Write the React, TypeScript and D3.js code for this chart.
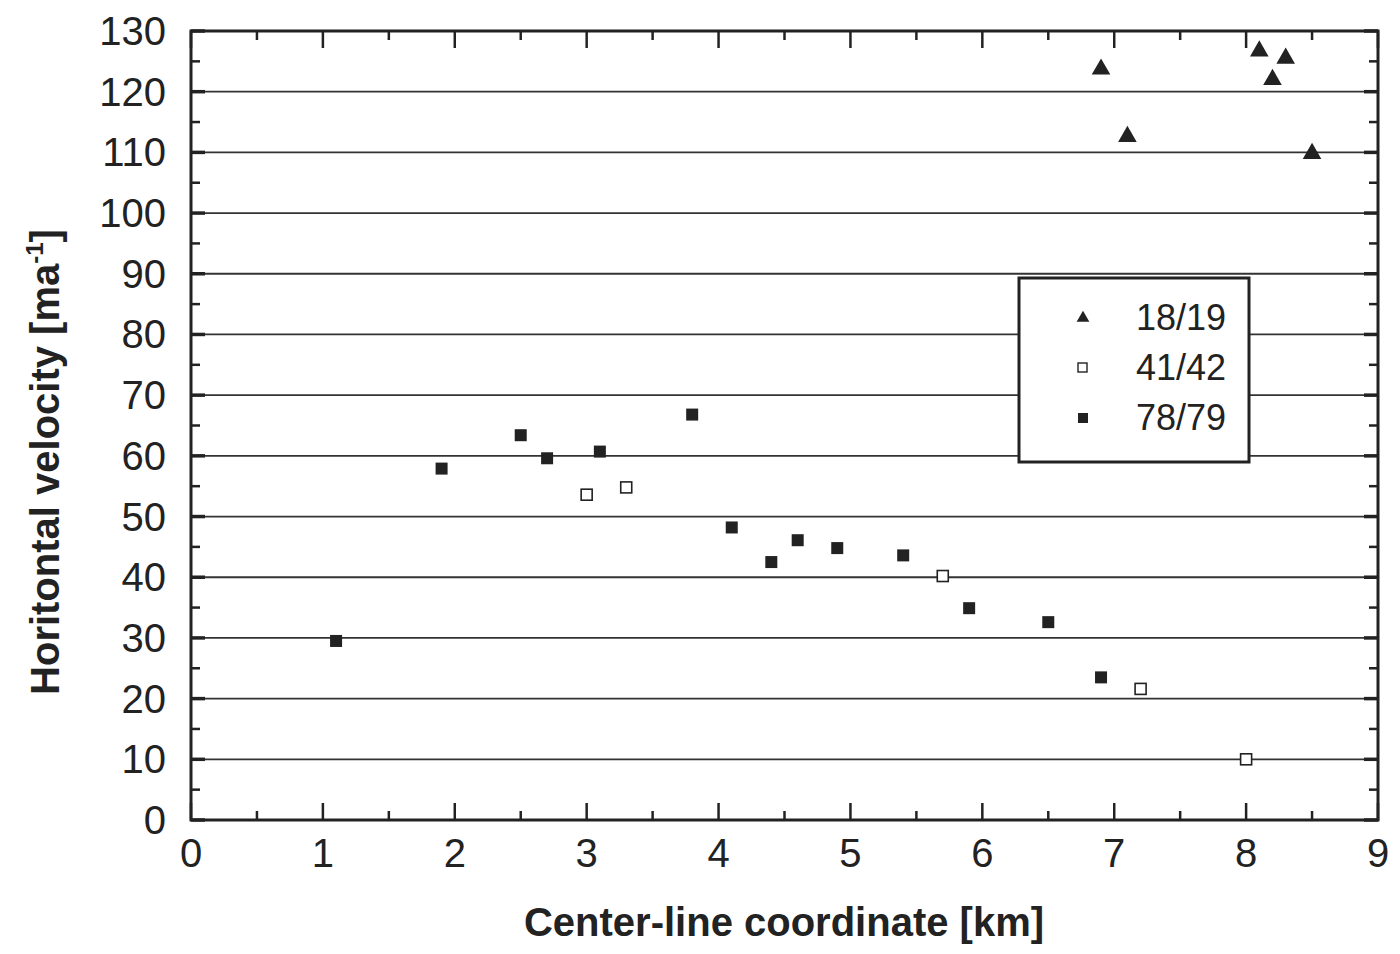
import React, { useEffect, useRef } from 'react';
import * as d3 from 'd3';

// series: [x km, velocity m/a]
const s1819 = [
  [6.9, 123.7], [7.1, 112.6], [8.1, 126.7], [8.2, 122.0], [8.3, 125.5], [8.5, 109.8],
];
const s4142 = [
  [3.0, 53.6], [3.3, 54.8], [5.7, 40.2], [7.2, 21.6], [8.0, 10.0],
];
const s7879 = [
  [1.1, 29.5], [1.9, 57.9], [2.5, 63.4], [2.7, 59.6], [3.1, 60.7], [3.8, 66.8],
  [4.1, 48.2], [4.4, 42.5], [4.6, 46.1], [4.9, 44.8], [5.4, 43.6], [5.9, 34.9],
  [6.5, 32.6], [6.9, 23.5],
];
const seriesNames = ['18/19', '41/42', '78/79'];
const xTicks = [0, 1, 2, 3, 4, 5, 6, 7, 8, 9];
const yTicks = [0, 10, 20, 30, 40, 50, 60, 70, 80, 90, 100, 110, 120, 130];

export default function App() {
  const svgRef = useRef<SVGSVGElement>(null);

  useEffect(() => {
    const svg = d3.select(svgRef.current);
    svg.selectAll('*').remove();
    const margin = { top: 31, right: 22, bottom: 134, left: 191 };
    const width = 1400;
    const height = 954;
    const w = width - margin.left - margin.right;
    const h = height - margin.top - margin.bottom;
    const font = 'Liberation Sans, Arial, sans-serif';
    const ink = '#222';

    const x = d3.scaleLinear().domain([0, 9]).range([0, w]);
    const y = d3.scaleLinear().domain([0, 130]).range([h, 0]);

    const g = svg.append('g').attr('transform', `translate(${margin.left},${margin.top})`);

    // grid lines
    g.selectAll('.grid')
      .data(yTicks.filter((d) => d > 0 && d < 130))
      .enter()
      .append('line')
      .attr('x1', 0)
      .attr('x2', w)
      .attr('y1', (d) => y(d))
      .attr('y2', (d) => y(d))
      .attr('stroke', '#333')
      .attr('stroke-width', 1.8);

    // ticks, inward
    const yMinor = d3.range(5, 130, 10);
    const xMinor = d3.range(0.5, 9, 1);
    const tick = (x1: number, y1: number, x2: number, y2: number, sw = 2.5) =>
      g.append('line').attr('x1', x1).attr('y1', y1).attr('x2', x2).attr('y2', y2)
        .attr('stroke', ink).attr('stroke-width', sw);
    yMinor.forEach((v) => { tick(0, y(v), 9, y(v)); tick(w, y(v), w - 9, y(v)); });
    yTicks.forEach((v) => { tick(0, y(v), 14, y(v), 3.5); tick(w, y(v), w - 14, y(v), 3.5); });
    xMinor.forEach((v) => { tick(x(v), h, x(v), h - 9); tick(x(v), 0, x(v), 9); });
    xTicks.forEach((v) => { tick(x(v), h, x(v), h - 17); tick(x(v), 0, x(v), 17); });

    // frame
    g.append('rect').attr('x', 0).attr('y', 0).attr('width', w).attr('height', h)
      .attr('fill', 'none').attr('stroke', ink).attr('stroke-width', 3);

    // tick labels
    g.selectAll('.xl').data(xTicks).enter().append('text')
      .attr('x', (d) => x(d)).attr('y', h + 47)
      .attr('text-anchor', 'middle').attr('font-family', font).attr('font-size', 40)
      .attr('fill', ink).text((d) => d);
    g.selectAll('.yl').data(yTicks).enter().append('text')
      .attr('x', -25).attr('y', (d) => y(d) + 14)
      .attr('text-anchor', 'end').attr('font-family', font).attr('font-size', 40)
      .attr('fill', ink).text((d) => d);

    // axis titles
    svg.append('text').attr('x', 784).attr('y', 936)
      .attr('text-anchor', 'middle').attr('font-family', font).attr('font-size', 40)
      .attr('font-weight', 'bold').attr('fill', ink).text('Center-line coordinate [km]');
    const yt = svg.append('text')
      .attr('transform', `translate(59,462) rotate(-90)`)
      .attr('text-anchor', 'middle').attr('font-family', font).attr('font-size', 40)
      .attr('font-weight', 'bold').attr('fill', ink);
    yt.append('tspan').text('Horitontal velocity [ma');
    yt.append('tspan').attr('font-size', 24).attr('dy', -16).text('-1');
    yt.append('tspan').attr('dy', 16).text(']');

    const tri = d3.symbol().type(d3.symbolTriangle);

    // markers
    g.selectAll('.tri').data(s1819).enter().append('path')
      .attr('d', tri.size(150)())
      .attr('transform', (d) => `translate(${x(d[0])},${y(d[1])})`)
      .attr('fill', ink);
    g.selectAll('.open').data(s4142).enter().append('rect')
      .attr('x', (d) => x(d[0]) - 5.5).attr('y', (d) => y(d[1]) - 5.5)
      .attr('width', 11).attr('height', 11)
      .attr('fill', 'white').attr('stroke', ink).attr('stroke-width', 1.6);
    g.selectAll('.fill').data(s7879).enter().append('rect')
      .attr('x', (d) => x(d[0]) - 6).attr('y', (d) => y(d[1]) - 6)
      .attr('width', 12).attr('height', 12)
      .attr('fill', ink);

    // legend
    const lg = svg.append('g').attr('transform', 'translate(1019,278)');
    lg.append('rect').attr('width', 230).attr('height', 184)
      .attr('fill', 'white').attr('stroke', ink).attr('stroke-width', 3);
    const rows = [40, 90, 140];
    lg.append('path').attr('d', tri.size(70)()).attr('transform', `translate(64,${rows[0]})`).attr('fill', ink);
    lg.append('rect').attr('x', 59).attr('y', rows[1] - 5).attr('width', 9).attr('height', 9)
      .attr('fill', 'white').attr('stroke', ink).attr('stroke-width', 1.4);
    lg.append('rect').attr('x', 59).attr('y', rows[2] - 5).attr('width', 10).attr('height', 10).attr('fill', ink);
    seriesNames.forEach((n, i) => {
      lg.append('text').attr('x', 207).attr('y', rows[i] + 12)
        .attr('text-anchor', 'end').attr('font-family', font).attr('font-size', 36)
        .attr('fill', ink).text(n);
    });
  }, []);

  return (
    <svg ref={svgRef} width={1400} height={954}
      style={{ position: 'absolute', left: 0, top: 0, background: 'white' }} />
  );
}
